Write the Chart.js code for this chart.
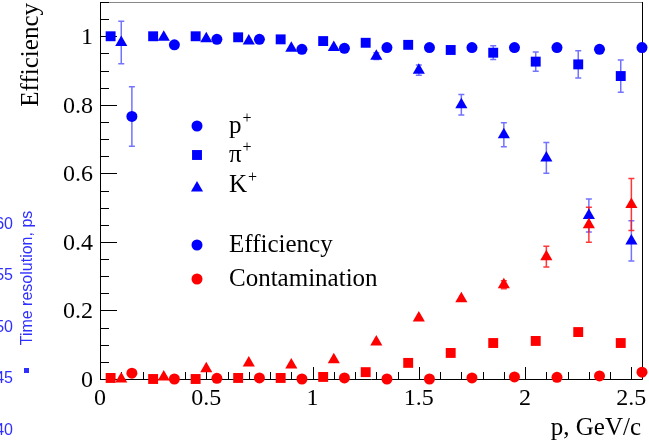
<!DOCTYPE html>
<html>
<head>
<meta charset="utf-8">
<script src="https://cdn.jsdelivr.net/npm/chart.js@4.4.1/dist/chart.umd.min.js"></script>
<style>
  html, body { margin: 0; padding: 0; background: #fff; }
  #wrap { width: 649px; height: 444px; position: relative; }
</style>
</head>
<body>
<div id="wrap"><canvas id="effChart"></canvas></div>
<script>
// momentum bins (GeV/c) for each species
const pionMomentum = [0.05, 0.25, 0.45, 0.65, 0.85, 1.05, 1.25, 1.45, 1.65, 1.85, 2.05, 2.25, 2.45];
const kaonMomentum = [0.1, 0.3, 0.5, 0.7, 0.9, 1.1, 1.3, 1.5, 1.7, 1.9, 2.1, 2.3, 2.5];
const protonMomentum = [0.15, 0.35, 0.55, 0.75, 0.95, 1.15, 1.35, 1.55, 1.75, 1.95, 2.15, 2.35, 2.55];

// efficiency
const protonEff = [0.766, 0.975, 0.991, 0.991, 0.962, 0.965, 0.967, 0.967, 0.967, 0.967, 0.967, 0.962, 0.967];
const protonEffErr = [0.087, 0, 0, 0, 0, 0, 0, 0, 0, 0, 0, 0, 0.012];
const pionEff = [1.0, 1.0, 1.0, 0.997, 0.991, 0.986, 0.981, 0.975, 0.96, 0.952, 0.926, 0.918, 0.884];
const pionEffErr = [0, 0, 0, 0, 0, 0, 0, 0, 0, 0.02, 0.028, 0.04, 0.047];
const kaonEff = [0.982, 0.997, 0.993, 0.986, 0.965, 0.967, 0.942, 0.901, 0.80, 0.713, 0.645, 0.477, 0.403];
const kaonEffErr = [0.062, 0, 0, 0, 0, 0, 0.01, 0.015, 0.03, 0.035, 0.045, 0.048, 0.059];

// contamination
const protonCont = [0.017, 0, 0.002, 0.003, 0, 0.003, 0, 0, 0.003, 0.006, 0.005, 0.009, 0.02];
const pionCont = [0.003, 0, 0, 0.003, 0.003, 0.006, 0.02, 0.047, 0.076, 0.105, 0.111, 0.137, 0.105];
const kaonCont = [0, 0.006, 0.03, 0.047, 0.041, 0.056, 0.108, 0.178, 0.234, 0.275, 0.357, 0.45, 0.509];
const kaonContErr = [0, 0, 0, 0, 0, 0, 0, 0, 0, 0.012, 0.03, 0.051, 0.076];

const xTickValues = [0, 0.5, 1, 1.5, 2, 2.5];
const yTickValues = [0, 0.2, 0.4, 0.6, 0.8, 1];

// stray labels from the neighbouring time-resolution axis
const timeAxisLabels = ['60', '55', '50', '45', '40'];

const BLUE = '#0000ff';
const RED = '#ff0000';
const SERIF = '"Liberation Serif", "Times New Roman", serif';
const SANS = '"Liberation Sans", Arial, sans-serif';

function series(label, xs, ys, errs, color, style, radius, order) {
  return {
    label,
    data: xs.map((x, i) => ({ x, y: ys[i] })),
    yErr: errs,
    pointStyle: style,
    pointRadius: radius,
    pointHoverRadius: radius,
    backgroundColor: color,
    borderColor: color,
    borderWidth: 0,
    showLine: false,
    clip: false,
    order,
  };
}

function superLabel(ctx, x, y, main, sup) {
  ctx.font = `25px ${SERIF}`;
  ctx.fillText(main, x, y);
  if (sup) {
    const w = ctx.measureText(main).width;
    ctx.font = `16px ${SERIF}`;
    ctx.fillText(sup, x + w + 1, y - 10);
  }
}

const overlay = {
  id: 'overlay',
  beforeDatasetsDraw(chart) {
    const { ctx, chartArea: a, scales: { x, y } } = chart;
    ctx.save();
    // frame
    ctx.lineWidth = 1;
    ctx.strokeStyle = '#888';
    ctx.beginPath(); ctx.moveTo(a.left, a.top + 0.5); ctx.lineTo(a.right, a.top + 0.5); ctx.stroke();
    ctx.strokeStyle = '#000';
    ctx.beginPath();
    ctx.moveTo(a.left + 0.5, a.top); ctx.lineTo(a.left + 0.5, a.bottom + 0.5);
    ctx.lineTo(a.right + 0.5, a.bottom + 0.5); ctx.lineTo(a.right + 0.5, a.top);
    ctx.stroke();

    // inner ticks
    ctx.beginPath();
    for (let i = 0; i <= 22; i++) {
      const py = Math.round(y.getPixelForValue(i * 0.05)) + 0.5;
      const len = i % 4 === 0 ? 17 : 9;
      ctx.moveTo(a.left, py); ctx.lineTo(a.left + len, py);
    }
    for (let i = 0; i <= 25; i++) {
      const px = Math.round(x.getPixelForValue(i * 0.1)) + 0.5;
      const len = i % 5 === 0 ? 12 : 7;
      ctx.moveTo(px, a.bottom); ctx.lineTo(px, a.bottom - len);
    }
    ctx.stroke();

    // tick labels
    ctx.fillStyle = '#000';
    ctx.font = `24px ${SERIF}`;
    ctx.textBaseline = 'alphabetic';
    ctx.textAlign = 'right';
    yTickValues.forEach((v) => ctx.fillText(String(v), a.left - 7, y.getPixelForValue(v) + 8));
    ctx.textAlign = 'center';
    xTickValues.forEach((v) => ctx.fillText(String(v), x.getPixelForValue(v), 405));

    // error bars
    chart.data.datasets.forEach((ds) => {
      if (!ds.yErr) return;
      ctx.strokeStyle = ds.borderColor === BLUE ? 'rgba(40,40,255,0.65)' : 'rgba(255,20,20,0.85)';
      ctx.lineWidth = 1.5;
      ds.data.forEach((pt, i) => {
        const e = ds.yErr[i];
        if (!e) return;
        const px = x.getPixelForValue(pt.x);
        const y1 = y.getPixelForValue(pt.y + e);
        const y2 = y.getPixelForValue(pt.y - e);
        ctx.beginPath();
        ctx.moveTo(px, y1); ctx.lineTo(px, y2);
        ctx.moveTo(px - 3, y1); ctx.lineTo(px + 3, y1);
        ctx.moveTo(px - 3, y2); ctx.lineTo(px + 3, y2);
        ctx.stroke();
      });
    });
    ctx.restore();
  },
  afterDraw(chart) {
    const { ctx } = chart;
    ctx.save();
    ctx.fillStyle = '#000';
    ctx.textBaseline = 'alphabetic';

    // axis titles
    ctx.font = `25px ${SERIF}`;
    ctx.textAlign = 'right';
    ctx.fillText('p, GeV/c', 641, 435);
    ctx.save();
    ctx.translate(38, 3);
    ctx.rotate(-Math.PI / 2);
    ctx.fillText('Efficiency', 0, 0);
    ctx.restore();

    // legend
    ctx.textAlign = 'left';
    const H = Chart.helpers;
    const marks = [
      { style: 'circle', r: 5.5, y: 126, c: BLUE, main: 'p', sup: '+' },
      { style: 'rect', r: 7, y: 155, c: BLUE, main: 'π', sup: '+' },
      { style: 'triangle', r: 7, y: 188, c: BLUE, main: 'K', sup: '+', ty: 185 },
      { style: 'circle', r: 5.5, y: 245, c: BLUE, main: 'Efficiency' },
      { style: 'circle', r: 5.5, y: 279, c: RED, main: 'Contamination' },
    ];
    marks.forEach((m) => {
      ctx.fillStyle = m.c;
      H.drawPoint(ctx, { pointStyle: m.style, radius: m.r, rotation: 0, borderWidth: 0 }, 197, m.y);
      ctx.fillStyle = '#000';
      superLabel(ctx, 229, (m.ty || m.y) + 7, m.main, m.sup);
    });

    // leftover time-resolution axis
    ctx.fillStyle = '#2f2fff';
    ctx.font = `16px ${SANS}`;
    ctx.textAlign = 'right';
    const ys = [223, 274, 326, 377, 429];
    timeAxisLabels.forEach((t, i) => ctx.fillText(t, 13, ys[i] + 6));
    ctx.save();
    ctx.translate(32, 278);
    ctx.rotate(-Math.PI / 2);
    ctx.textAlign = 'center';
    ctx.fillText('Time resolution, ps', 0, 0);
    ctx.restore();
    ctx.fillRect(24, 368, 5, 5);
    ctx.restore();
  },
};

new Chart(document.getElementById('effChart'), {
  type: 'scatter',
  data: {
    datasets: [
      series('p+ efficiency', protonMomentum, protonEff, protonEffErr, BLUE, 'circle', 5.5, 2),
      series('pi+ efficiency', pionMomentum, pionEff, pionEffErr, BLUE, 'rect', 7, 2),
      series('K+ efficiency', kaonMomentum, kaonEff, kaonEffErr, BLUE, 'triangle', 7, 2),
      series('p+ contamination', protonMomentum, protonCont, null, RED, 'circle', 5.5, 1),
      series('pi+ contamination', pionMomentum, pionCont, null, RED, 'rect', 7, 1),
      series('K+ contamination', kaonMomentum, kaonCont, kaonContErr, RED, 'triangle', 7, 1),
    ],
  },
  options: {
    responsive: true,
    maintainAspectRatio: false,
    animation: false,
    devicePixelRatio: 1,
    layout: { autoPadding: false, padding: { top: 2, right: 7, left: 100, bottom: 65 } },
    plugins: { legend: { display: false }, tooltip: { enabled: false } },
    scales: {
      x: { type: 'linear', min: 0, max: 2.55, display: false },
      y: { type: 'linear', min: 0, max: 1.1, display: false },
    },
  },
  plugins: [overlay],
});
</script>
</body>
</html>
